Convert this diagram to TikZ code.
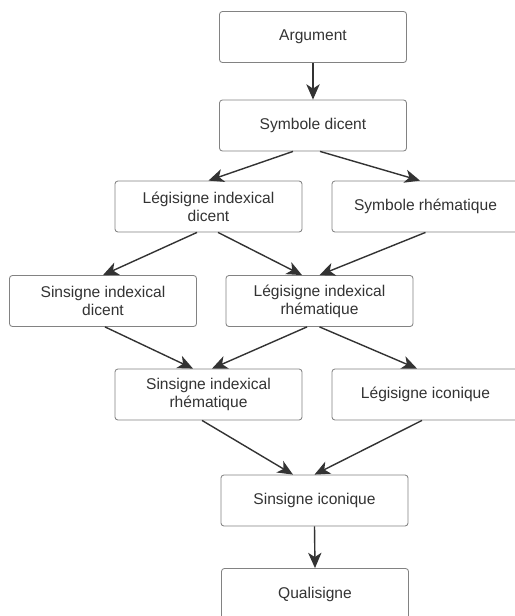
\documentclass[tikz,border=0pt]{standalone}
\usepackage{fontspec}
\setmainfont{Liberation Sans}
\usetikzlibrary{arrows.meta}
\definecolor{boxgray}{RGB}{130,130,130}
\definecolor{inkgray}{RGB}{51,51,51}
\tikzset{
	signbox/.style={draw=boxgray, line width=0.7pt, rounded corners=2.5pt, fill=white,
		minimum width=5.61cm, minimum height=1.53cm, align=center, text=inkgray,
		font=\fontsize{13.3}{15.4}\selectfont},
	arr/.style={draw=inkgray, line width=1.2pt,
		-{Stealth[length=0.46cm, width=0.4cm, inset=0.13cm]}}
}
\begin{document}
\begin{tikzpicture}[x=0.03cm, y=-0.03cm]
		\useasboundingbox (0,0) rectangle (515,616);
		% boxes
		\node[signbox] (arg) at (313,37) {Argument};
		\node[signbox] (sd) at (313,125.5) {Symbole dicent};
		\node[signbox] (lid) at (208.5,206.5) {Légisigne indexical\\dicent};
		\node[signbox] (sr) at (425.5,206.5) {Symbole rhématique};
		\node[signbox] (sid) at (103,301) {Sinsigne indexical\\dicent};
		\node[signbox] (lir) at (319.5,301) {Légisigne indexical\\rhématique};
		\node[signbox] (sir) at (208.5,394.5) {Sinsigne indexical\\rhématique};
		\node[signbox] (li) at (425.5,394.5) {Légisigne iconique};
		\node[signbox] (si) at (314.5,500.5) {Sinsigne iconique};
		\node[signbox] (qs) at (315,594) {Qualisigne};
		% arrows
		\draw[arr] (arg.south) -- (sd.north);
		\draw[arr] ([xshift=-0.6cm]sd.south) -- (lid.north);
		\draw[arr] ([xshift=0.21cm]sd.south) -- ([xshift=-0.165cm]sr.north);
		\draw[arr] ([xshift=-0.345cm]lid.south) -- (sid.north);
		\draw[arr] ([xshift=0.285cm]lid.south) -- ([xshift=-0.525cm]lir.north);
		\draw[arr] (sr.south) -- (lir.north);
		\draw[arr] ([xshift=0.06cm]sid.south) -- ([xshift=-0.465cm]sir.north);
		\draw[arr] ([xshift=-0.375cm]lir.south) -- ([xshift=0.105cm]sir.north);
		\draw[arr] (lir.south) -- ([xshift=-0.255cm]li.north);
		\draw[arr] ([xshift=-0.195cm]sir.south) -- ([xshift=-0.645cm]si.north);
		\draw[arr] ([xshift=-0.105cm]li.south) -- (si.north);
		\draw[arr] (si.south) -- (qs.north);
	\end{tikzpicture}
\end{document}
